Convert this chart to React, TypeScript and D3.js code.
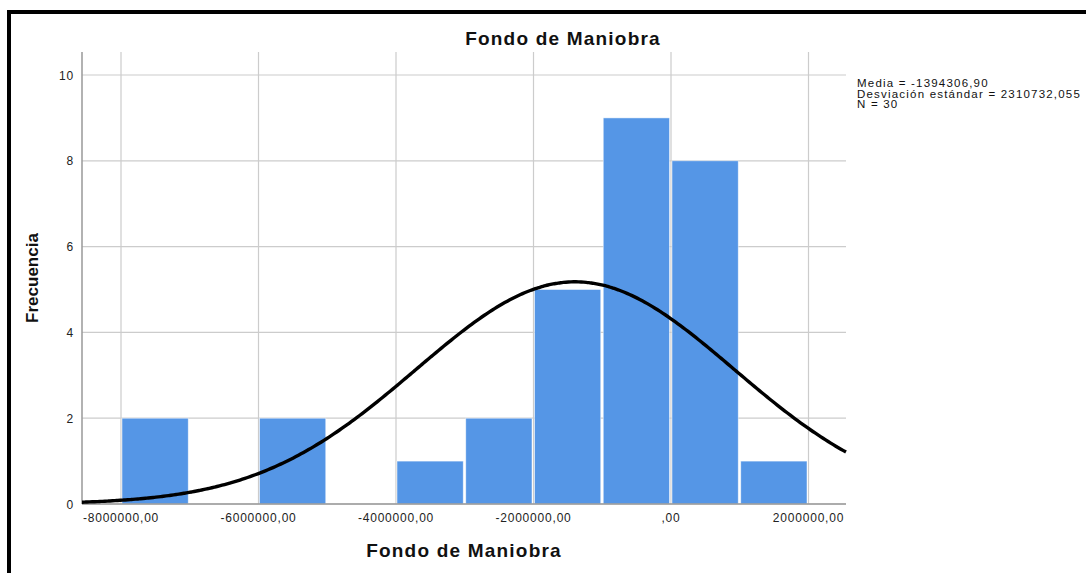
import React from "react";
import * as d3 from "d3";

const binStarts = [-8000000, -7000000, -6000000, -5000000, -4000000, -3000000, -2000000, -1000000, 0, 1000000];
const counts = [2, 0, 2, 0, 1, 2, 5, 9, 8, 1];
const binWidth = 1000000;
const xTicks = [-8000000, -6000000, -4000000, -2000000, 0, 2000000];
const xTickLabels = ["-8000000,00", "-6000000,00", "-4000000,00", "-2000000,00", ",00", "2000000,00"];
const yTicks = [0, 2, 4, 6, 8, 10];
const mean = -1394306.9;
const sd = 2310732.055;
const n = 30;
const legendLines = ["Media = -1394306,90", "Desviación estándar = 2310732,055", "N = 30"];

export default function App() {
  const W = 1086, H = 573;
  const left = 82, right = 846, top = 52, bottom = 504;
  const x = d3.scaleLinear().domain([-8000000, 2000000]).range([121, 808.5]);
  const y = d3.scaleLinear().domain([0, 10]).range([504, 75]);
  const xMin = x.invert(left), xMax = x.invert(right);
  const pts = d3.range(0, 301).map(i => xMin + (xMax - xMin) * i / 300);
  const pdf = (v: number) => n * binWidth * Math.exp(-0.5 * ((v - mean) / sd) ** 2) / (sd * Math.sqrt(2 * Math.PI));
  const line = d3.line<number>().x(v => x(v)).y(v => y(pdf(v))).curve(d3.curveBasis);
  const font = "Liberation Sans, Arial, sans-serif";
  return (
    <svg width={W} height={H} style={{ position: "absolute", left: 0, top: 0, background: "#fff" }}>
      <rect x={0} y={0} width={W} height={H} fill="#fff" />
      <path d={`M9,${H + 5} V12 H${W + 5}`} fill="none" stroke="#000" strokeWidth={4} />
      {yTicks.map(t => (
        <line key={"gy" + t} x1={left} x2={right} y1={y(t)} y2={y(t)} stroke="#cccccc" strokeWidth={1.2} />
      ))}
      {xTicks.map(t => (
        <line key={"gx" + t} x1={x(t)} x2={x(t)} y1={top} y2={bottom} stroke="#cccccc" strokeWidth={1.2} />
      ))}
      {binStarts.map((b, i) => counts[i] > 0 ? (
        <rect key={"b" + i} x={x(b) + 1} y={y(counts[i])} width={x(b + binWidth) - x(b) - 2.5} height={y(0) - y(counts[i])} fill="#5596e6" stroke="#ffffff" strokeOpacity={0.6} strokeWidth={0.8} />
      ) : null)}
      <line x1={left} x2={left} y1={top} y2={bottom} stroke="#999" strokeWidth={1.5} />
      <line x1={left} x2={right} y1={bottom} y2={bottom} stroke="#999" strokeWidth={1.5} />
      <path d={line(pts) || ""} fill="none" stroke="#000" strokeWidth={3.4} />
      {yTicks.map(t => (
        <text key={"ty" + t} x={74} y={y(t) + 4.5} textAnchor="end" fontFamily={font} fontSize={12} letterSpacing={0.8} fill="#222">{t}</text>
      ))}
      {xTicks.map((t, i) => (
        <text key={"tx" + t} x={x(t)} y={522} textAnchor="middle" fontFamily={font} fontSize={12} letterSpacing={0.8} fill="#222">{xTickLabels[i]}</text>
      ))}
      <text x={563} y={45} textAnchor="middle" fontFamily={font} fontSize={19} fontWeight="bold" letterSpacing={1.2} fill="#111">Fondo de Maniobra</text>
      <text x={464} y={557} textAnchor="middle" fontFamily={font} fontSize={19} fontWeight="bold" letterSpacing={1.2} fill="#111">Fondo de Maniobra</text>
      <text transform="translate(38,278) rotate(-90)" textAnchor="middle" fontFamily="Liberation Sans Narrow, Arial Narrow, sans-serif" fontSize={17} fontWeight="bold" fill="#111">Frecuencia</text>
      {legendLines.map((s, i) => (
        <text key={"l" + i} x={857} y={87 + i * 10.5} fontFamily={font} fontSize={11.5} letterSpacing={1.2} fill="#111">{s}</text>
      ))}
    </svg>
  );
}
